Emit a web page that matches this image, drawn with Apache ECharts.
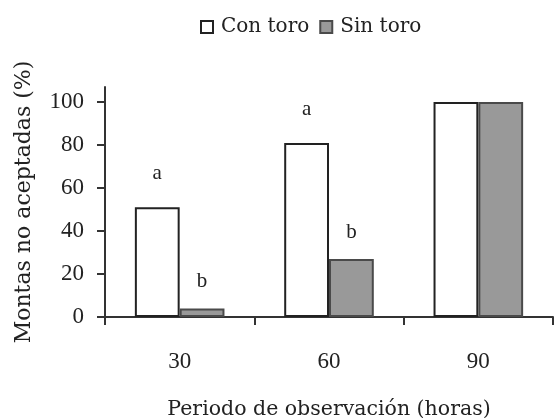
<!DOCTYPE html>
<html>
<head>
<meta charset="utf-8">
<script src="https://cdn.jsdelivr.net/npm/echarts@6/dist/echarts.min.js"></script>
<style>html,body{margin:0;padding:0;background:#fff}#c{width:556px;height:418px}</style>
</head>
<body>
<div id="c"></div>
<script>
const categories = ['30', '60', '90'];
const conToro = [51, 81, 100];
const sinToro = [4, 27, 100];
const conLetters = ['a', 'a', ''];
const sinLetters = ['b', 'b', ''];
const yTicks = [0, 20, 40, 60, 80, 100];

const font = 'Liberation Serif';
const wideFont = 'DejaVu Serif';
const chart = echarts.init(document.getElementById('c'), null, {renderer: 'canvas'});

function withLetters(values, letters) {
  return values.map((v, i) => ({
    value: v,
    label: {show: letters[i] !== '', formatter: letters[i]}
  }));
}

chart.setOption({
  animation: false,
  backgroundColor: '#fff',
  textStyle: {fontFamily: font, color: '#222'},
  legend: {
    left: 195, top: 12,
    itemWidth: 12, itemHeight: 12, itemGap: 10,
    icon: 'rect',
    textStyle: {fontFamily: wideFont, fontSize: 20, color: '#222', padding: [0, 0, 0, 3]},
    data: ['Con toro', 'Sin toro']
  },
  grid: {left: 105, right: 3, top: 87, bottom: 101, containLabel: false, outerBoundsMode: 'none'},
  xAxis: {
    type: 'category',
    data: categories,
    name: 'Periodo de observación (horas)',
    nameLocation: 'middle',
    nameGap: 82,
    nameTextStyle: {fontFamily: wideFont, fontSize: 20.5, color: '#222', padding: [0, 0, 0, 0]},
    axisLine: {lineStyle: {color: '#333', width: 2}},
    axisTick: {show: true, length: 8, lineStyle: {color: '#333', width: 2}},
    axisLabel: {fontFamily: font, fontSize: 23, color: '#222', margin: 33}
  },
  yAxis: {
    type: 'value',
    min: 0, max: 107,
    name: 'Montas no aceptadas (%)',
    nameLocation: 'middle',
    nameGap: 70,
    nameTextStyle: {fontFamily: wideFont, fontSize: 22, color: '#222'},
    splitLine: {show: false},
    axisLine: {show: true, lineStyle: {color: '#333', width: 2}},
    axisTick: {show: true, length: 8, customValues: yTicks, lineStyle: {color: '#333', width: 2}},
    axisLabel: {fontFamily: font, fontSize: 23, color: '#222', margin: 21, customValues: yTicks}
  },
  series: [
    {
      name: 'Con toro', type: 'bar',
      data: withLetters(conToro, conLetters),
      barGap: '0%', barCategoryGap: '40%',
      itemStyle: {color: '#ffffff', borderColor: '#222', borderWidth: 2},
      label: {position: 'top', distance: 23, fontFamily: font, fontSize: 21, color: '#222'}
    },
    {
      name: 'Sin toro', type: 'bar',
      data: withLetters(sinToro, sinLetters),
      barGap: '0%', barCategoryGap: '40%',
      itemStyle: {color: '#999999', borderColor: '#4a4a4a', borderWidth: 2},
      label: {position: 'top', distance: 16, fontFamily: font, fontSize: 21, color: '#222'}
    }
  ]
});
</script>
</body>
</html>
